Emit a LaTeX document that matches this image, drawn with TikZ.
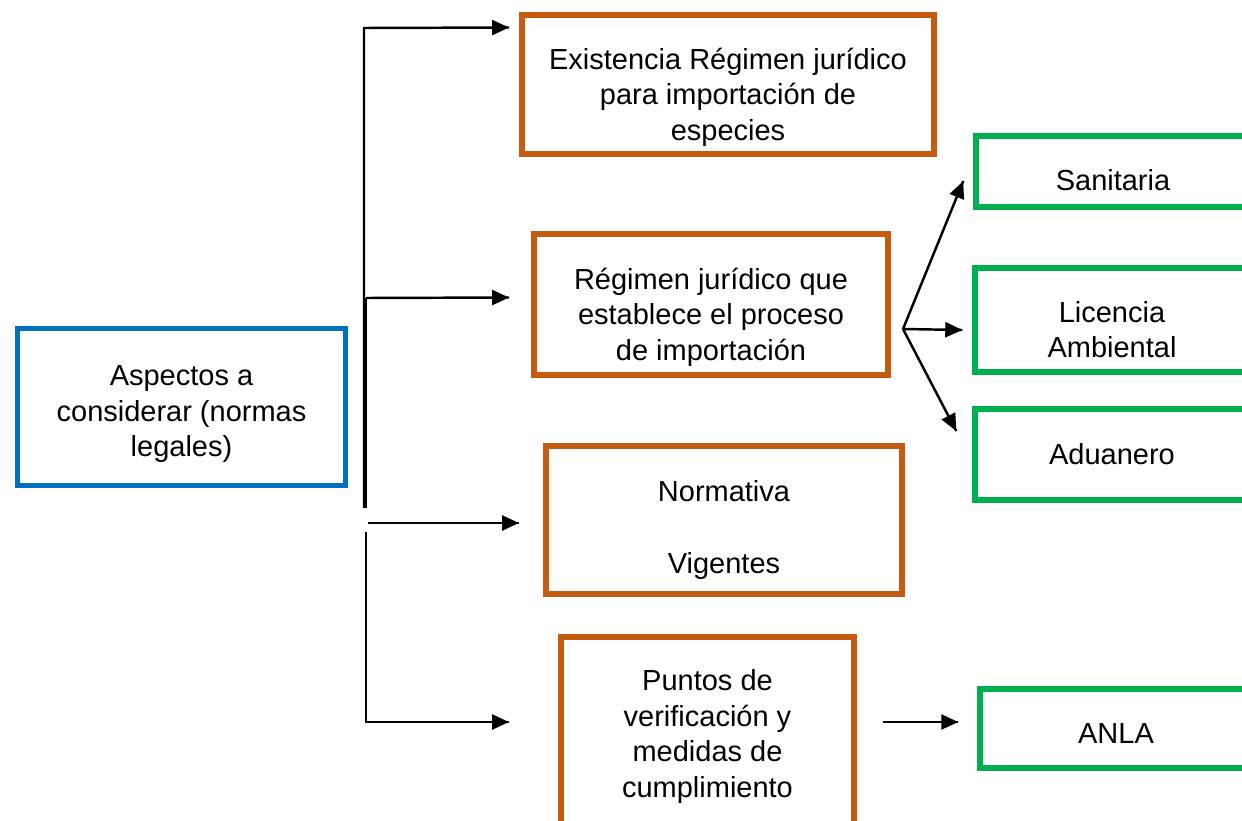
\documentclass[tikz,border=0pt]{standalone}
\usepackage{fontspec}
\setmainfont{Liberation Sans}
\usepackage{tikz}
\usetikzlibrary{arrows.meta}
\usetikzlibrary{decorations.markings}
\usetikzlibrary{calc}
\tikzset{->/.style = {decoration={markings,
                                  mark=at position 1 with {\arrow{Triangle[length=0.34cm, width=0.3cm]}}},
                      postaction={decorate}}}
\tikzset{caja/.style = {draw, line width=0.12cm, inner sep=0pt},
         texto/.style = {align=center, font=\fontsize{16.5pt}{20.2pt}\selectfont}}
\definecolor{cazul}{HTML}{0070C0}
\definecolor{cnaranja}{HTML}{C55A11}
\definecolor{cverde}{HTML}{00B050}
\begin{document}
\begin{tikzpicture}[x=0.02cm, y=-0.02cm, line width=1.4pt]
    \useasboundingbox (0,0) rectangle (1242,821);
    \clip (0,0) rectangle (1242,821);

    % cajas
    \node [caja, cazul, line width=0.1cm, minimum width=6.56cm, minimum height=3.14cm,
           label={[texto, yshift=-0.15cm]center:{Aspectos a\\considerar (normas\\legales)}}]
          (aspectos) at (181.5, 407) {};
    \node [caja, cnaranja, minimum width=8.24cm, minimum height=2.78cm,
           label={[texto, yshift=-0.25cm]center:{Existencia Régimen jurídico\\para importación de\\especies}}]
          (exist) at (728, 84.5) {};
    \node [caja, cnaranja, minimum width=7.08cm, minimum height=2.82cm,
           label={[texto, yshift=-0.25cm]center:{Régimen jurídico que\\establece el proceso\\de importación}}]
          (regimen) at (711, 304.5) {};
    \node [caja, cnaranja, minimum width=7.12cm, minimum height=2.96cm,
           label={[texto, yshift=-0.2cm]center:{Normativa\\[21pt]Vigentes}}]
          (normativa) at (724, 520) {};
    \node [caja, cnaranja, minimum width=5.86cm, minimum height=4.26cm,
           label={[texto, yshift=0.14cm]center:{Puntos de\\verificación y\\medidas de\\cumplimiento}}]
          (puntos) at (707.5, 743.5) {};
    \node [caja, cverde, line width=0.11cm, minimum width=5.48cm, minimum height=1.42cm,
           label={[texto, yshift=-0.18cm]center:{Sanitaria}}]
          (sani) at (1113, 171.5) {};
    \node [caja, cverde, line width=0.11cm, minimum width=5.48cm, minimum height=2.08cm,
           label={[texto, yshift=-0.19cm]center:{Licencia\\Ambiental}}]
          (licencia) at (1112, 320) {};
    \node [caja, cverde, line width=0.11cm, minimum width=5.48cm, minimum height=1.82cm,
           label={[texto]center:{Aduanero}}]
          (aduanero) at (1112, 454.5) {};
    \node [caja, cverde, line width=0.11cm, minimum width=5.44cm, minimum height=1.58cm,
           label={[texto, yshift=-0.1cm]center:{ANLA}}]
          (anla) at (1116, 728.5) {};

    % conectores
    \coordinate (b1) at (364, 28);
    \coordinate (b2) at (364, 508);
    \coordinate (b3) at (366, 298);
    \coordinate (b4) at (366, 532);
    \coordinate (b5) at (366, 722);
    \coordinate (b6) at (368, 523);
    \coordinate (fan) at (903, 329);
    \coordinate (ini) at ($(puntos.east)+(26,-21.5)$);

    \draw [->] (b2) -- (b1) -- ($(exist.west)+(-10,-57)$);
    \draw (b3) -- (b3 |- b2);
    \draw [->] (b3) -- ($(regimen.west)+(-22,-7)$);
    \draw [->] (b6) -- ($(normativa.west)+(-24,3)$);
    \draw [->] (b4) -- (b5) -- ($(puntos.west)+(-49,-21.5)$);

    \draw [->] (fan) -- ($(sani.west)+(-10,9.5)$);
    \draw [->] (fan) -- ($(licencia.west)+(-10,10)$);
    \draw [->] (fan) -- ($(aduanero.west)+(-16,-23.5)$);
    \draw [->] (ini) -- ($(anla.west)+(-19,-6.5)$);
\end{tikzpicture}
\end{document}
